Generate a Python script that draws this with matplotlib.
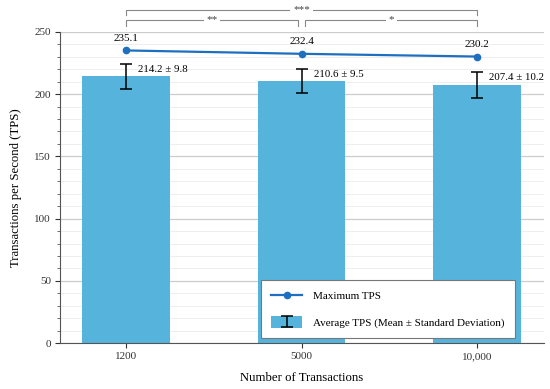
import matplotlib
matplotlib.use("Agg")
import matplotlib.pyplot as plt
import numpy as np
from matplotlib.ticker import MultipleLocator
from matplotlib.legend_handler import HandlerTuple

categories = ["1200", "5000", "10,000"]
avg_tps = [214.2, 210.6, 207.4]
std_tps = [9.8, 9.5, 10.2]
max_tps = [235.1, 232.4, 230.2]
sig_pairs = [(0, 1, "**"), (1, 2, "*"), (0, 2, "***")]

plt.rcParams['font.family'] = ['Liberation Serif', 'DejaVu Serif']

fig = plt.figure(figsize=(5.5, 3.89), dpi=100)
ax = fig.add_axes([0.109, 0.118, 0.88, 0.8])

x = np.arange(len(categories))
bar_color = "#56b4dc"
line_color = "#1f6fc0"

bars = ax.bar(x, avg_tps, width=0.5, color=bar_color, zorder=2)
err = ax.errorbar(x, avg_tps, yerr=std_tps, fmt="none", ecolor="black",
                  elinewidth=1.1, capthick=1.1, capsize=4, zorder=3)
line, = ax.plot(x, max_tps, color=line_color, marker="o", markersize=4.5, linewidth=1.6, zorder=4)

for xi, m in zip(x, max_tps):
    ax.text(xi, m + 6, f"{m:.1f}", ha="center", va="bottom", fontsize=8)
for xi, a, s in zip(x, avg_tps, std_tps):
    ax.text(xi + 0.07, a + s - 4, f"{a:.1f} ± {s:.1f}", ha="left", va="center", fontsize=7.8)

ax.set_ylim(0, 250)
ax.set_xlim(-0.375, 2.38)
ax.set_xticks(x)
ax.set_xticklabels(categories)
ax.yaxis.set_major_locator(MultipleLocator(50))
ax.yaxis.set_minor_locator(MultipleLocator(10))
ax.grid(axis="y", which="major", color="#cccccc", linewidth=0.9, zorder=0)
ax.grid(axis="y", which="minor", color="#ebebeb", linewidth=0.6, zorder=0)
ax.set_axisbelow(True)
ax.spines["top"].set_visible(False)
ax.spines["right"].set_visible(False)
for s in ["left", "bottom"]:
    ax.spines[s].set_color("#555555")
ax.tick_params(axis="both", labelsize=8, colors="#333333", length=3.5, pad=3)
ax.tick_params(axis="y", which="minor", length=2, color="#555555")
ax.set_xlabel("Number of Transactions", fontsize=9.2, labelpad=8)
ax.set_ylabel("Transactions per Second (TPS)", fontsize=9.2, labelpad=9)

# significance brackets
def bracket(x1, x2, y, h, txt):
    ax.plot([x1, x1, x2, x2], [y - h, y, y, y - h], color="#888888", linewidth=0.8,
            clip_on=False, zorder=5)
    ax.text((x1 + x2) / 2, y, txt, ha="center", va="center", fontsize=8, color="#444444",
            bbox=dict(facecolor="white", edgecolor="none", pad=2), clip_on=False, zorder=6)

bracket(x[0], x[1] - 0.02, 259.6, 4.5, sig_pairs[0][2])
bracket(x[1] + 0.02, x[2], 259.6, 4.5, sig_pairs[1][2])
bracket(x[0], x[2], 267.7, 4.5, sig_pairs[2][2])

leg = ax.legend([line, (bars.patches[0], err)],
                ["Maximum TPS", "Average TPS (Mean ± Standard Deviation)"],
                handler_map={tuple: HandlerTuple(ndivide=1)},
                loc="lower right", bbox_to_anchor=(0.94, 0.016),
                fontsize=8, frameon=True, fancybox=False, edgecolor="#777777",
                framealpha=1, borderpad=0.9, labelspacing=1.35, handlelength=2.8,
                handleheight=1.2, handletextpad=1.0, borderaxespad=0)
leg.get_frame().set_linewidth(0.8)

fig.savefig("out.png", dpi=100)
